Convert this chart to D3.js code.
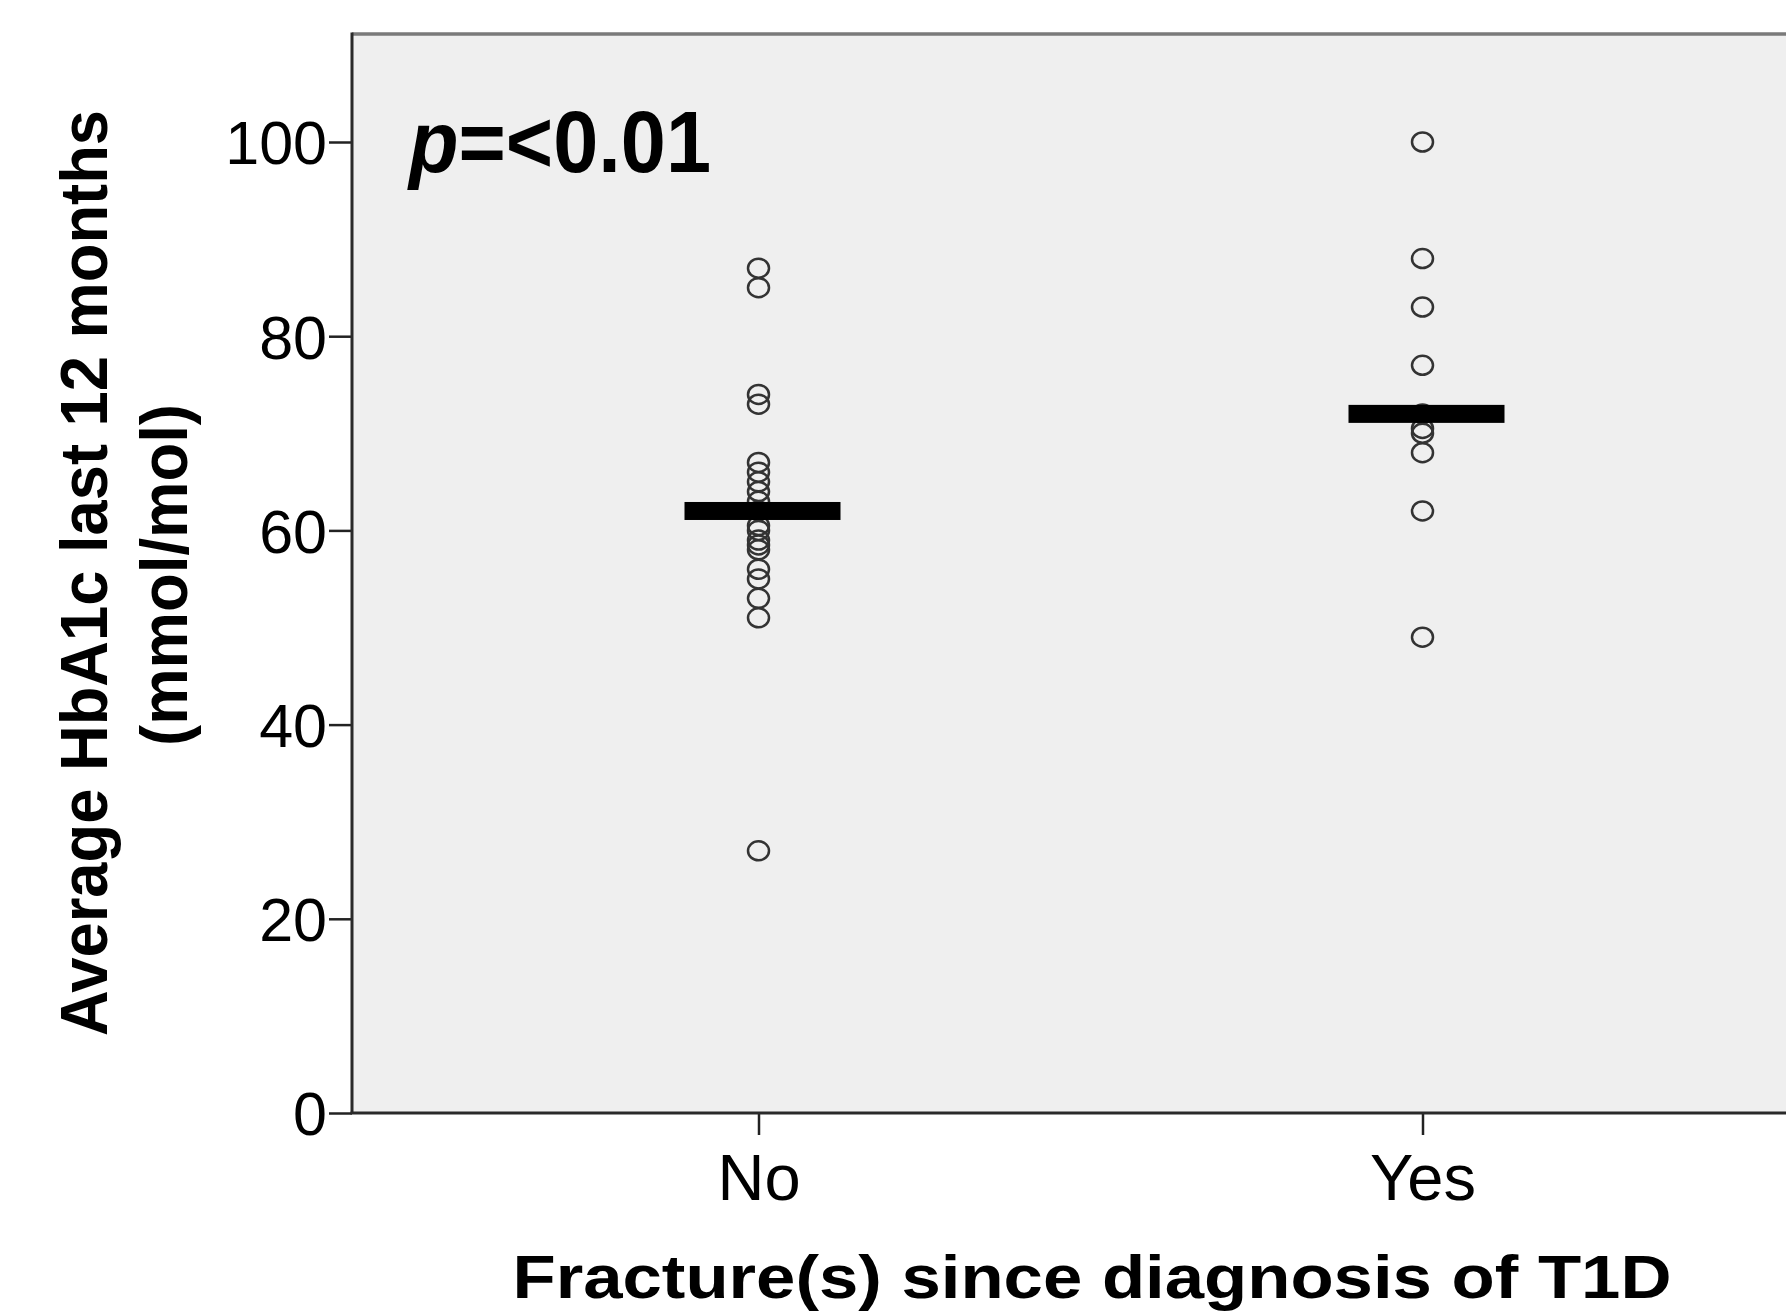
<!DOCTYPE html>
<html>
<head>
<meta charset="utf-8">
<script src="https://cdn.jsdelivr.net/npm/d3@7"></script>
<style>
  html, body { margin: 0; padding: 0; background: #fff; }
  svg { display: block; font-family: "Liberation Sans", Arial, sans-serif; }
</style>
</head>
<body>
<div id="chart"></div>
<script>
// data
const groups = ["No", "Yes"];
const noValues = [87, 85, 74, 73, 67, 66, 65, 64, 63, 62, 60.5, 60, 59, 58.5, 58, 56, 55, 53, 51, 27];
const yesValues = [100, 88, 83, 77, 72, 70.5, 70, 68, 62, 49];
const barValues = [62, 72]; // horizontal bars, one per group
const yTicks = [0, 20, 40, 60, 80, 100];
const pLabel = "=<0.01";

const W = 1786, H = 1316;
const plot = { left: 352, top: 34, right: W + 5, bottom: 1113 };

const svg = d3.select("#chart").append("svg")
  .attr("width", W)
  .attr("height", H);

// scales
const x = d3.scalePoint().domain(groups).range([758.5, 1422.5]);
const y = d3.scaleLinear().domain([0, 100]).range([plot.bottom, 142]);

// plot background + frame
svg.append("rect")
  .attr("x", plot.left).attr("y", plot.top)
  .attr("width", plot.right - plot.left).attr("height", plot.bottom - plot.top)
  .attr("fill", "#efefef");
svg.append("line") // top border, grey
  .attr("x1", plot.left).attr("x2", plot.right)
  .attr("y1", plot.top).attr("y2", plot.top)
  .attr("stroke", "#7a7a7a").attr("stroke-width", 3.5);

// Y axis
const yAxis = svg.append("g")
  .attr("transform", `translate(${plot.left},0)`)
  .call(d3.axisLeft(y).tickValues(yTicks).tickSize(23).tickPadding(2).tickFormat(d3.format("d")));
yAxis.select(".domain").remove();
yAxis.selectAll(".tick line").attr("stroke", "#222").attr("stroke-width", 2.5);
yAxis.selectAll("text").style("font-size", "61px").attr("fill", "#000").attr("dy", "0.36em");
svg.append("line")
  .attr("x1", plot.left).attr("x2", plot.left)
  .attr("y1", plot.top - 1.5).attr("y2", plot.bottom)
  .attr("stroke", "#2a2a2a").attr("stroke-width", 3);

// X axis
const xAxis = svg.append("g")
  .attr("transform", `translate(0,${plot.bottom})`)
  .call(d3.axisBottom(x).tickSize(22).tickPadding(16));
xAxis.select(".domain").remove();
xAxis.selectAll(".tick line").attr("stroke", "#222").attr("stroke-width", 2.5);
xAxis.selectAll("text").style("font-size", "65px").attr("fill", "#000").attr("dy", "0.75em");
svg.append("line")
  .attr("x1", plot.left - 1.5).attr("x2", plot.right)
  .attr("y1", plot.bottom).attr("y2", plot.bottom)
  .attr("stroke", "#2a2a2a").attr("stroke-width", 3);

// points
const points = [];
noValues.forEach(v => points.push({ g: "No", v }));
yesValues.forEach(v => points.push({ g: "Yes", v }));

svg.selectAll(".dot")
  .data(points)
  .enter().append("ellipse")
  .attr("class", "dot")
  .attr("cx", d => x(d.g))
  .attr("cy", d => y(d.v))
  .attr("rx", 10.5)
  .attr("ry", 9.5)
  .attr("fill", "none")
  .attr("stroke", "#333")
  .attr("stroke-width", 2.5);

// bars (group summary), drawn slightly right of the dot column like the original
svg.selectAll(".bar")
  .data(groups)
  .enter().append("rect")
  .attr("class", "bar")
  .attr("x", d => x(d) - 74)
  .attr("y", (d, i) => y(barValues[i]) - 9)
  .attr("width", 156)
  .attr("height", 18)
  .attr("fill", "#000");

// p value label, one text element
svg.append("text")
  .attr("x", 409).attr("y", 172)
  .attr("font-size", 88)
  .attr("font-weight", "bold")
  .attr("textLength", 302)
  .attr("lengthAdjust", "spacingAndGlyphs")
  .html(`<tspan font-style="italic">p</tspan>${pLabel.replace("<", "&lt;")}`);

// X axis title
svg.append("text")
  .attr("x", 1092).attr("y", 1298)
  .attr("text-anchor", "middle")
  .attr("font-size", 62)
  .attr("font-weight", "bold")
  .attr("textLength", 1159)
  .attr("lengthAdjust", "spacingAndGlyphs")
  .text("Fracture(s) since diagnosis of T1D");

// Y axis title, two lines
const yTitle = svg.append("g")
  .attr("transform", "translate(107,573) rotate(-90)");
yTitle.append("text")
  .attr("text-anchor", "middle")
  .attr("font-size", 67)
  .attr("font-weight", "bold")
  .attr("textLength", 926)
  .attr("lengthAdjust", "spacingAndGlyphs")
  .text("Average HbA1c last 12 months");
yTitle.append("text")
  .attr("x", -2).attr("y", 80)
  .attr("text-anchor", "middle")
  .attr("font-size", 67)
  .attr("font-weight", "bold")
  .attr("textLength", 342)
  .attr("lengthAdjust", "spacingAndGlyphs")
  .text("(mmol/mol)");
</script>
</body>
</html>
